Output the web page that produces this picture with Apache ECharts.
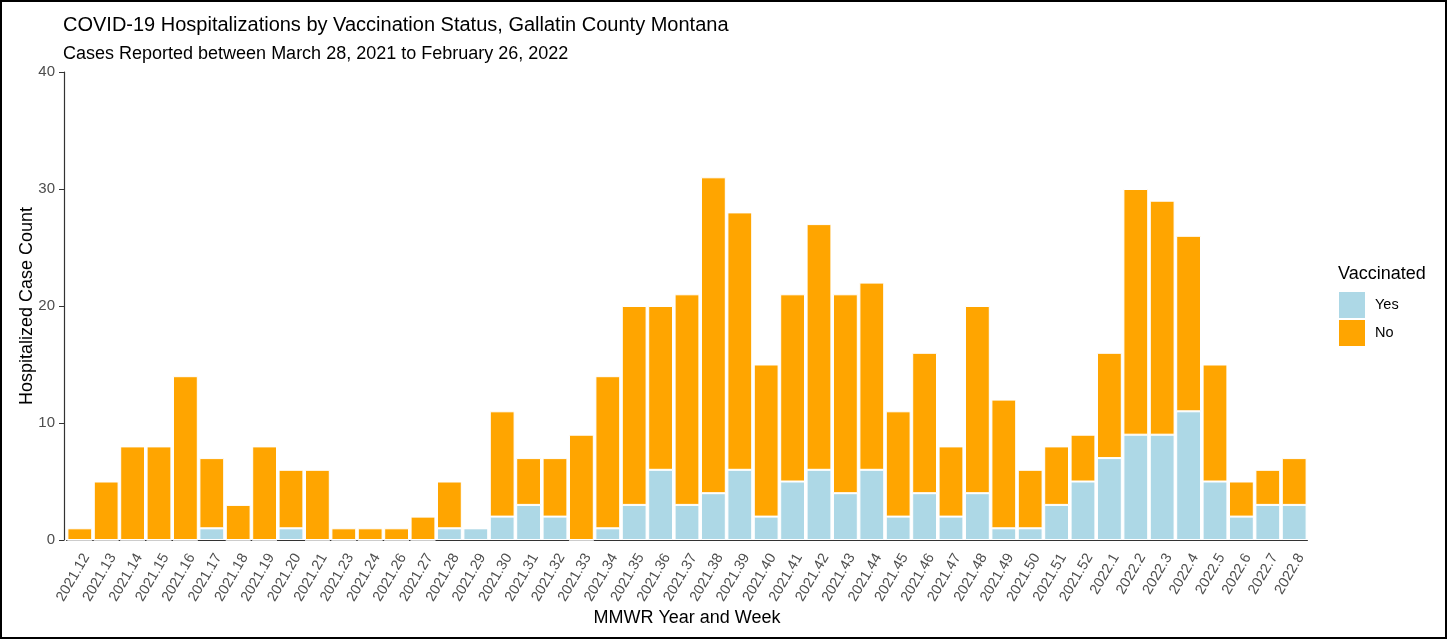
<!DOCTYPE html>
<html><head><meta charset="utf-8">
<script src="https://cdn.jsdelivr.net/npm/echarts@6/dist/echarts.min.js"></script>
<style>
html,body{margin:0;padding:0;background:#fff;}
#frame{position:absolute;left:0;top:0;width:1443px;height:635px;border:2px solid #000;}
#c{position:absolute;left:0;top:0;width:1447px;height:639px;}
</style></head>
<body><div id="frame"></div><div id="c"></div>
<script>
const weeks = ["2021.12","2021.13","2021.14","2021.15","2021.16","2021.17","2021.18","2021.19","2021.20","2021.21","2021.23","2021.24","2021.26","2021.27","2021.28","2021.29","2021.30","2021.31","2021.32","2021.33","2021.34","2021.35","2021.36","2021.37","2021.38","2021.39","2021.40","2021.41","2021.42","2021.43","2021.44","2021.45","2021.46","2021.47","2021.48","2021.49","2021.50","2021.51","2021.52","2022.1","2022.2","2022.3","2022.4","2022.5","2022.6","2022.7","2022.8"];
const vaccinatedYes = [0,0,0,0,0,1,0,0,1,0,0,0,0,0,1,1,2,3,2,0,1,3,6,3,4,6,2,5,6,4,6,2,4,2,4,1,1,3,5,7,9,9,11,5,2,3,3];
const vaccinatedNo = [1,5,8,8,14,6,3,8,5,6,1,1,1,2,4,0,9,4,5,9,13,17,14,18,27,22,13,16,21,17,16,9,12,6,16,11,5,5,4,9,21,20,15,10,3,3,4];
const yTicks = [0,10,20,30,40];

const chart = echarts.init(document.getElementById('c'));
const font = 'Liberation Sans, Arial, sans-serif';
chart.setOption({
  backgroundColor: 'transparent',
  animation: false,
  textStyle: {fontFamily: font},
  title: [
    {text: 'COVID-19 Hospitalizations by Vaccination Status, Gallatin County Montana', left: 58, top: 10,
     textStyle: {fontSize: 20, fontWeight: 'normal', color: '#000', fontFamily: font}},
    {text: 'Cases Reported between March 28, 2021 to February 26, 2022', left: 58, top: 40,
     textStyle: {fontSize: 18, fontWeight: 'normal', color: '#000', fontFamily: font}}
  ],
  legend: {
    orient: 'vertical', left: 1334, top: 287, itemWidth: 26, itemHeight: 26, itemGap: 2,
    icon: 'rect', data: ['Yes','No'],
    itemStyle: {borderWidth: 0},
    textStyle: {fontSize: 14.5, color: '#000', fontFamily: font, padding: [0,0,0,5]}
  },
  graphic: [{type: 'text', left: 1338, top: 265, style: {text: 'Vaccinated', fontSize: 18, fill: '#000', fontFamily: font}}],
  grid: {left: 66.6, right: 139.6, top: 72, bottom: 99},
  xAxis: {
    type: 'category', data: weeks, boundaryGap: true,
    name: 'MMWR Year and Week', nameLocation: 'middle', nameGap: 69, nameMoveOverlap: false,
    nameTextStyle: {fontSize: 18, color: '#000', fontFamily: font},
    axisLine: {lineStyle: {color: '#333', width: 1.2}},
    axisTick: {alignWithLabel: true, length: 5, lineStyle: {color: '#333'}},
    axisLabel: {rotate: 60, interval: 0, fontSize: 14.5, color: '#4D4D4D', margin: 11, fontFamily: font,
      verticalAlign: 'top'},
    splitLine: {show: false}
  },
  yAxis: {
    type: 'value', min: 0, max: 40, interval: 10, offset: 2.6,
    name: 'Hospitalized Case Count', nameLocation: 'middle', nameGap: 28, nameMoveOverlap: false,
    nameTextStyle: {fontSize: 18, color: '#000', fontFamily: font},
    axisLine: {show: true, lineStyle: {color: '#333', width: 1.2}},
    axisTick: {show: true, length: 5, lineStyle: {color: '#333'}},
    axisLabel: {fontSize: 15, color: '#4D4D4D', margin: 9, fontFamily: font,
      formatter: v => yTicks.includes(v) ? String(v) : ''},
    splitLine: {show: false}
  },
  series: [
    {name: 'Yes', type: 'bar', stack: 'a', data: vaccinatedYes, barCategoryGap: '6%',
     itemStyle: {color: '#ADD8E6', borderColor: '#fff', borderWidth: 1}},
    {name: 'No', type: 'bar', stack: 'a', data: vaccinatedNo, barCategoryGap: '6%',
     itemStyle: {color: '#FFA500', borderColor: '#fff', borderWidth: 1}}
  ]
});
</script></body></html>
